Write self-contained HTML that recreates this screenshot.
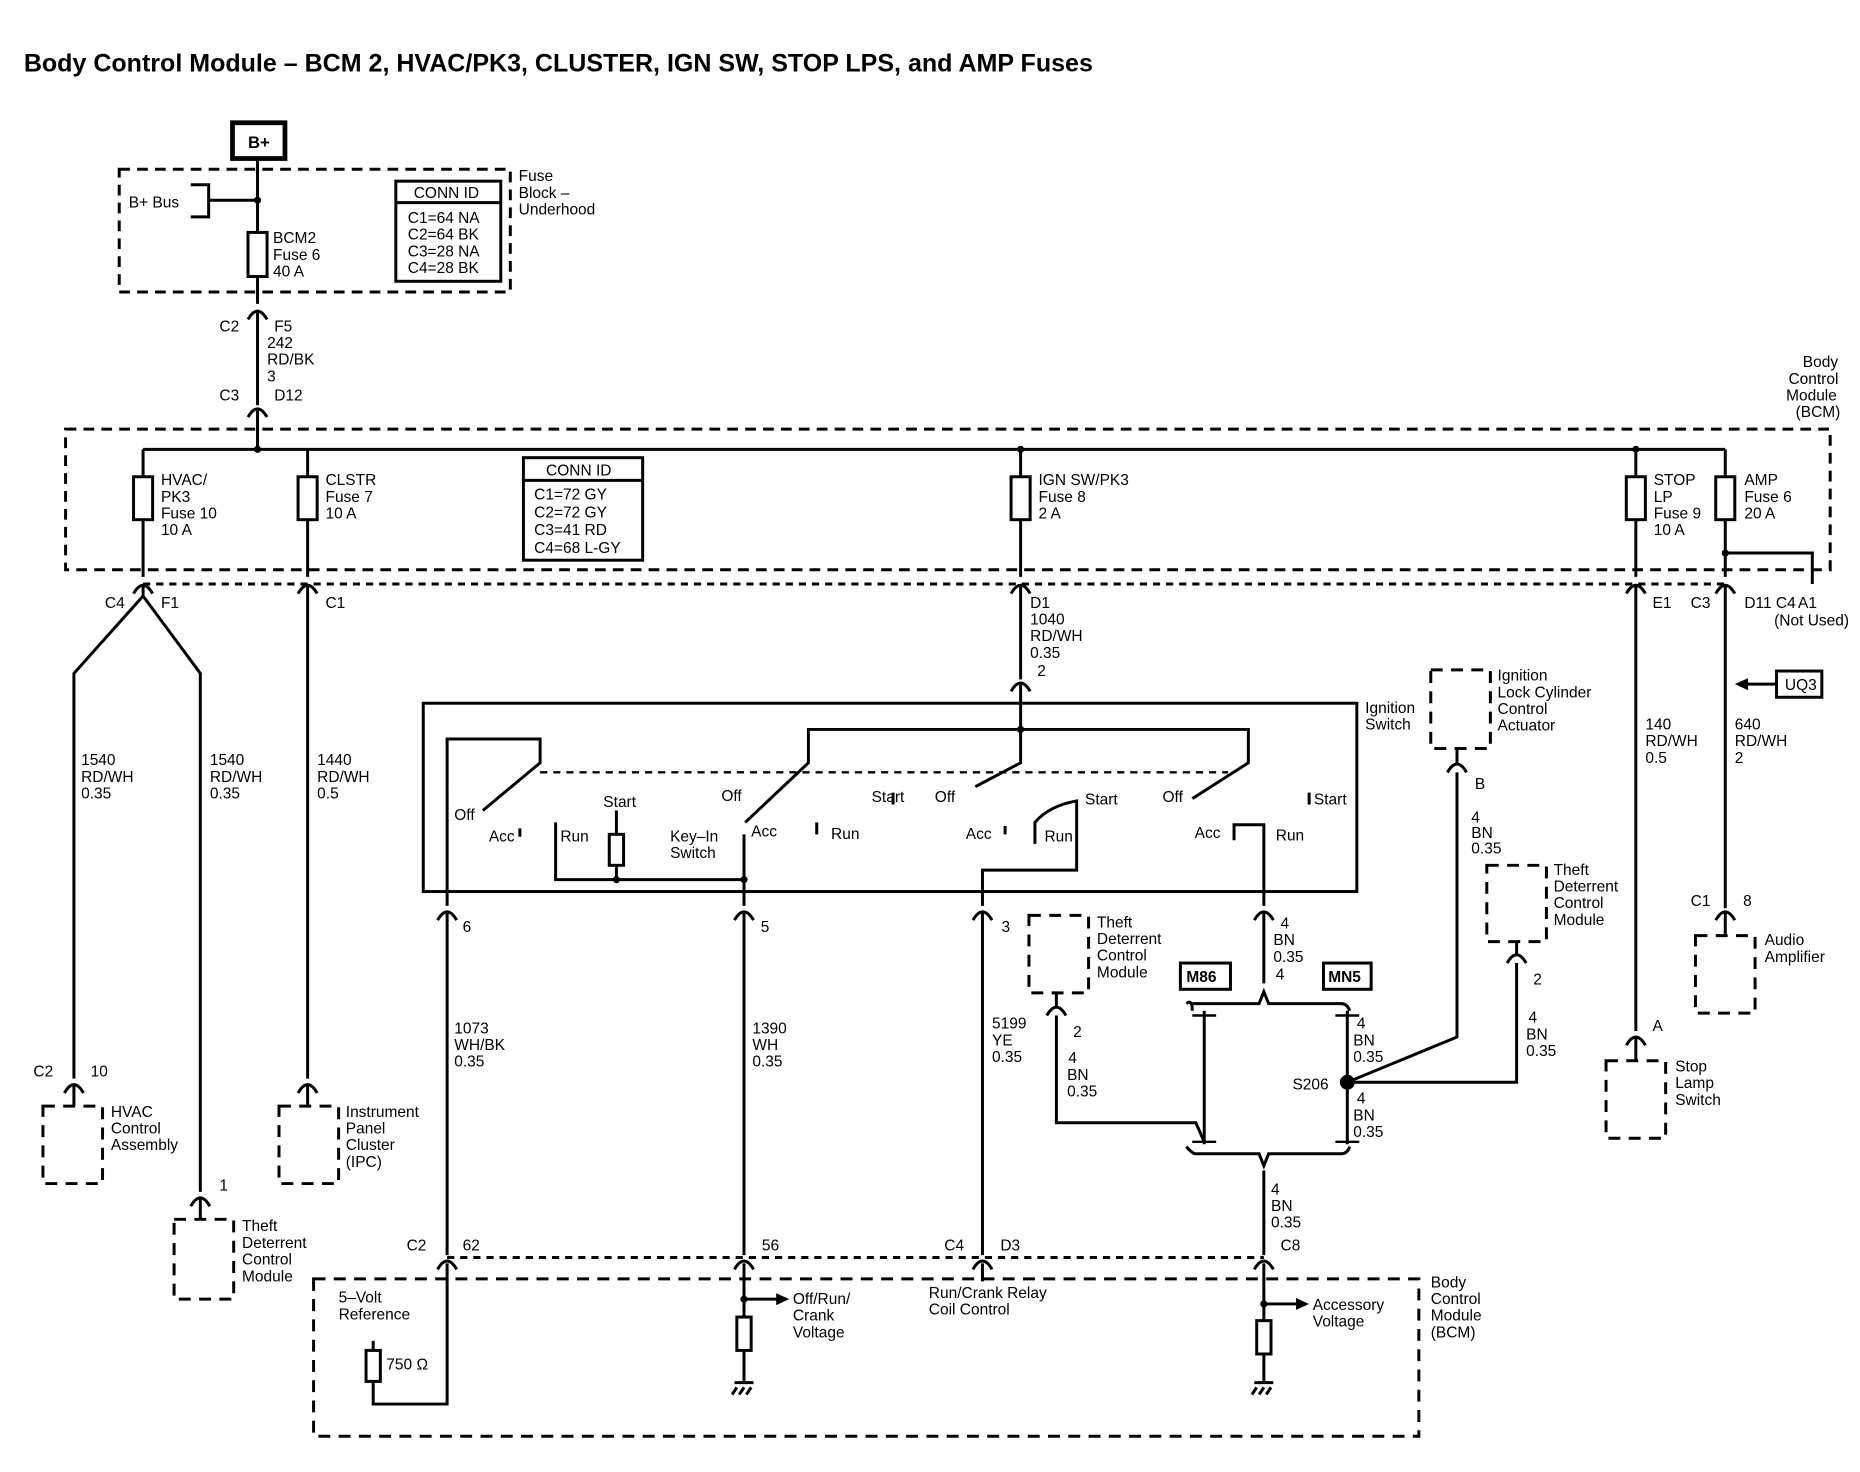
<!DOCTYPE html>
<html><head><meta charset="utf-8"><style>
html,body{margin:0;padding:0;background:#fff;}
svg{display:block}
text{font-family:"Liberation Sans",Arial,sans-serif;font-size:13px;fill:#000}
.b{font-weight:bold}
</style></head><body>
<svg width="1860" height="1472" viewBox="0 0 1560 1235" preserveAspectRatio="none" xmlns="http://www.w3.org/2000/svg">
<g fill="none" stroke="#000" stroke-width="2.5">
<rect x="195" y="103" width="44" height="30" stroke-width="4"/>
<rect x="100" y="142" width="328" height="103" stroke-dasharray="9,6"/>
<path d="M160,155 H175 V182 H160 M175,168 H216"/>
<line x1="216" y1="133" x2="216" y2="255"/>
<rect x="208" y="195" width="16" height="37" fill="#fff"/>
<rect x="332" y="152" width="88" height="84"/><line x1="332" y1="170" x2="420" y2="170"/>
<path d="M208,268 Q216,254 224,268 M216,262 V340 M208,350 Q216,336 224,350 M216,344 V377"/>
<rect x="55" y="360" width="1480" height="118" stroke-dasharray="9,6"/>
<line x1="120" y1="377" x2="1447" y2="377"/>
<line x1="120" y1="490" x2="1447" y2="490" stroke-dasharray="6,5"/>
<line x1="120" y1="377" x2="120" y2="484"/>
<line x1="258" y1="377" x2="258" y2="484"/>
<line x1="856" y1="377" x2="856" y2="484"/>
<line x1="1372" y1="377" x2="1372" y2="484"/>
<line x1="1447" y1="377" x2="1447" y2="484"/>
<rect x="112" y="400" width="16" height="36" fill="#fff"/>
<rect x="250" y="400" width="16" height="36" fill="#fff"/>
<rect x="848" y="400" width="16" height="36" fill="#fff"/>
<rect x="1364" y="400" width="16" height="36" fill="#fff"/>
<rect x="1439" y="400" width="16" height="36" fill="#fff"/>
<rect x="439" y="384" width="100" height="86"/><line x1="439" y1="403" x2="539" y2="403"/>
<path d="M1447,464 H1520 V490"/>
<path d="M112,498 Q120,484 128,498 M250,498 Q258,484 266,498 M848,498 Q856,484 864,498 M1364,498 Q1372,484 1380,498 M1439,498 Q1447,484 1455,498"/>
<path d="M120,492 V500 L62,565 V905 M120,500 L168,565 V1000"/>
<line x1="258" y1="492" x2="258" y2="905"/>
<line x1="856" y1="492" x2="856" y2="570"/>
<path d="M848,580 Q856,566 864,580 M856,574 V612"/>
<line x1="1372" y1="492" x2="1372" y2="865"/>
<line x1="1447" y1="492" x2="1447" y2="762"/>
<path d="M1439,772 Q1447,758 1455,772 M1447,766 V785"/>
<path d="M1364,877 Q1372,863 1380,877 M1372,871 V890"/>
<path d="M54,917 Q62,903 70,917 M62,911 V928"/>
<path d="M250,917 Q258,903 266,917 M258,911 V928"/>
<path d="M160,1012 Q168,998 176,1012 M168,1006 V1023"/>
<g stroke-dasharray="10,7">
<rect x="36" y="928" width="50" height="65"/>
<rect x="234" y="928" width="50" height="65"/>
<rect x="146" y="1023" width="50" height="67"/>
<rect x="1347" y="890" width="50" height="65"/>
<rect x="1422" y="785" width="50" height="65"/>
<rect x="1200" y="562" width="50" height="66"/>
<rect x="1247" y="726" width="50" height="64"/>
<rect x="863" y="768" width="50" height="65"/>
<rect x="263" y="1073" width="927" height="132"/>
</g>
<rect x="1490" y="563" width="38" height="22" stroke-width="2.5"/>
<path d="M1490,574 H1460"/>
<rect x="355" y="590" width="783" height="158"/>
<path d="M375,760 V620 H453 V640 L405,680"/>
<path d="M453,648 H1030" stroke-dasharray="6,5" stroke-width="2"/>
<path d="M856,612 H678 V640 L625,690 M856,612 V640 L818,660 M856,612 H1047 V640 L1000,670 M624,700 V760"/>
<path d="M466,690 V738 H624 M517,680 V700 M517,726 V738 M436,695 V702 M685,690 V700 M749,665 V675 M843,693 V700"/>
<rect x="511" y="700" width="12" height="26" fill="#fff"/>
<path d="M868,708 V690 Q880,676 903,672 V708 M824,760 V730 H903 V708"/>
<path d="M1035,705 V692 H1060 V760 M1098,665 V675"/>
<path d="M367,772 Q375,758 383,772 M375,766 V1053"/>
<path d="M616,772 Q624,758 632,772 M624,766 V1053"/>
<path d="M816,772 Q824,758 832,772 M824,766 V1053"/>
<path d="M1052,772 Q1060,758 1068,772 M1060,766 V825"/>
<path d="M995,842 Q1000,838 1000,848 M1000,842 H1056 L1060,832 L1064,842 H1125 Q1130,842 1132,848"/>
<rect x="990" y="808" width="42" height="22"/><rect x="1110" y="808" width="40" height="22"/>
<path d="M1010,848 V960 M1130,848 V960"/>
<path d="M1000,852 H1020 M1120,852 H1140 M1000,958 H1020 M1120,958 H1140" stroke-width="2"/>
<path d="M995,962 Q1000,968 1003,968 H1056 L1060,978 L1064,968 H1125 Q1130,968 1132,962"/>
<path d="M1060,982 V1053"/>
<path d="M878,852 Q886,838 894,852 M886,846 V833 M886,852 V942 H1003 L1010,958"/>
<path d="M1214,648 Q1222,634 1230,648 M1222,642 V628 M1222,648 V870 L1130,908"/>
<path d="M1264,808 Q1272,794 1280,808 M1272,802 V790 M1272,808 V908 H1130"/>
<circle cx="1130" cy="908" r="5" fill="#000"/>
<line x1="375" y1="1055" x2="1060" y2="1055" stroke-dasharray="6,5"/>
<path d="M367,1065 Q375,1051 383,1065 M616,1065 Q624,1051 632,1065 M816,1065 Q824,1051 832,1065 M1052,1065 Q1060,1051 1068,1065"/>
<path d="M375,1060 V1178 H313 V1125 M313,1160 V1178"/>
<rect x="307" y="1133" width="12" height="26" fill="#fff"/>
<path d="M624,1060 V1105 M624,1133 V1160 M616,1160 H632 M618,1164 L614,1170 M624,1164 L620,1170 M630,1164 L626,1170 M624,1090 H655"/>
<rect x="618" y="1105" width="12" height="28" fill="#fff"/>
<path d="M824,1060 V1075"/>
<path d="M1060,1060 V1108 M1060,1136 V1160 M1052,1160 H1068 M1054,1164 L1050,1170 M1060,1164 L1056,1170 M1066,1164 L1062,1170 M1060,1094 H1090"/>
<rect x="1054" y="1108" width="12" height="28" fill="#fff"/>
</g>
<g fill="#000">
<circle cx="216" cy="168" r="3"/><circle cx="216" cy="377" r="3"/><circle cx="856" cy="377" r="3"/><circle cx="1372" cy="377" r="3"/><circle cx="1447" cy="464" r="3"/><circle cx="517" cy="738" r="3"/><circle cx="624" cy="738" r="3"/><circle cx="856" cy="612" r="3"/><circle cx="624" cy="1090" r="3"/><circle cx="1060" cy="1094" r="3"/>
<path d="M1455,574 L1466,569 L1466,579Z"/><path d="M662,1090 L651,1085 L651,1095Z"/><path d="M1098,1094 L1087,1089 L1087,1099Z"/>
</g>
<text x="20" y="60" class="b" style="font-size:21px">Body Control Module – BCM 2, HVAC/PK3, CLUSTER, IGN SW, STOP LPS, and AMP Fuses</text>
<text x="208" y="124" class="b" style="font-size:14px">B+</text>
<text x="108" y="174">B+ Bus</text>
<text x="229" y="204">BCM2</text><text x="229" y="218">Fuse 6</text><text x="229" y="232">40 A</text>
<text x="347" y="166">CONN ID</text>
<text x="342" y="187">C1=64 NA</text><text x="342" y="201">C2=64 BK</text><text x="342" y="215">C3=28 NA</text><text x="342" y="229">C4=28 BK</text>
<text x="435" y="152">Fuse</text><text x="435" y="166">Block –</text><text x="435" y="180">Underhood</text>
<text x="184" y="278">C2</text><text x="230" y="278">F5</text><text x="224" y="292">242</text><text x="224" y="306">RD/BK</text><text x="224" y="320">3</text>
<text x="184" y="336">C3</text><text x="230" y="336">D12</text>
<text x="1512" y="308">Body</text><text x="1500" y="322">Control</text><text x="1498" y="336">Module</text><text x="1506" y="350">(BCM)</text>
<text x="135" y="407">HVAC/</text><text x="135" y="421">PK3</text><text x="135" y="435">Fuse 10</text><text x="135" y="449">10 A</text>
<text x="273" y="407">CLSTR</text><text x="273" y="421">Fuse 7</text><text x="273" y="435">10 A</text>
<text x="458" y="399">CONN ID</text>
<text x="448" y="419">C1=72 GY</text><text x="448" y="434">C2=72 GY</text><text x="448" y="449">C3=41 RD</text><text x="448" y="464">C4=68 L-GY</text>
<text x="871" y="407">IGN SW/PK3</text><text x="871" y="421">Fuse 8</text><text x="871" y="435">2 A</text>
<text x="1387" y="407">STOP</text><text x="1387" y="421">LP</text><text x="1387" y="435">Fuse 9</text><text x="1387" y="449">10 A</text>
<text x="1463" y="407">AMP</text><text x="1463" y="421">Fuse 6</text><text x="1463" y="435">20 A</text>
<text x="88" y="510">C4</text><text x="135" y="510">F1</text><text x="273" y="510">C1</text>
<text x="864" y="510">D1</text><text x="864" y="524">1040</text><text x="864" y="538">RD/WH</text><text x="864" y="552">0.35</text><text x="870" y="567">2</text>
<text x="1386" y="510">E1</text><text x="1418" y="510">C3</text><text x="1463" y="510">D11 C4</text><text x="1508" y="510">A1</text><text x="1488" y="525">(Not Used)</text>
<text x="1497" y="579">UQ3</text>
<text x="1145" y="598">Ignition</text><text x="1145" y="612">Switch</text>
<text x="1256" y="571">Ignition</text><text x="1256" y="585">Lock Cylinder</text><text x="1256" y="599">Control</text><text x="1256" y="613">Actuator</text>
<text x="1237" y="662">B</text><text x="1234" y="690">4</text><text x="1234" y="703">BN</text><text x="1234" y="716">0.35</text>
<text x="1380" y="612">140</text><text x="1380" y="626">RD/WH</text><text x="1380" y="640">0.5</text>
<text x="1455" y="612">640</text><text x="1455" y="626">RD/WH</text><text x="1455" y="640">2</text>
<text x="68" y="642">1540</text><text x="68" y="656">RD/WH</text><text x="68" y="670">0.35</text>
<text x="176" y="642">1540</text><text x="176" y="656">RD/WH</text><text x="176" y="670">0.35</text>
<text x="266" y="642">1440</text><text x="266" y="656">RD/WH</text><text x="266" y="670">0.5</text>
<text x="381" y="688">Off</text><text x="410" y="706">Acc</text><text x="470" y="706">Run</text><text x="506" y="677">Start</text>
<text x="562" y="706">Key–In</text><text x="562" y="720">Switch</text>
<text x="605" y="672">Off</text><text x="630" y="702">Acc</text><text x="697" y="704">Run</text><text x="731" y="673">Start</text>
<text x="784" y="673">Off</text><text x="810" y="704">Acc</text><text x="876" y="706">Run</text><text x="910" y="675">Start</text>
<text x="975" y="673">Off</text><text x="1002" y="703">Acc</text><text x="1070" y="705">Run</text><text x="1102" y="675">Start</text>
<text x="1303" y="734">Theft</text><text x="1303" y="748">Deterrent</text><text x="1303" y="762">Control</text><text x="1303" y="776">Module</text>
<text x="388" y="782">6</text><text x="638" y="782">5</text><text x="840" y="782">3</text>
<text x="1074" y="779">4</text><text x="1068" y="793">BN</text><text x="1068" y="807">0.35</text><text x="1070" y="822">4</text>
<text x="920" y="778">Theft</text><text x="920" y="792">Deterrent</text><text x="920" y="806">Control</text><text x="920" y="820">Module</text>
<text x="995" y="824" class="b">M86</text><text x="1114" y="824" class="b">MN5</text>
<text x="1418" y="760">C1</text><text x="1462" y="760">8</text>
<text x="1480" y="793">Audio</text><text x="1480" y="807">Amplifier</text>
<text x="1286" y="826">2</text><text x="900" y="870">2</text>
<text x="381" y="867">1073</text><text x="381" y="881">WH/BK</text><text x="381" y="895">0.35</text>
<text x="631" y="867">1390</text><text x="631" y="881">WH</text><text x="631" y="895">0.35</text>
<text x="832" y="863">5199</text><text x="832" y="877">YE</text><text x="832" y="891">0.35</text>
<text x="1138" y="863">4</text><text x="1135" y="877">BN</text><text x="1135" y="891">0.35</text>
<text x="1282" y="858">4</text><text x="1280" y="872">BN</text><text x="1280" y="886">0.35</text>
<text x="1386" y="865">A</text>
<text x="1405" y="899">Stop</text><text x="1405" y="913">Lamp</text><text x="1405" y="927">Switch</text>
<text x="896" y="892">4</text><text x="895" y="906">BN</text><text x="895" y="920">0.35</text>
<text x="1084" y="914">S206</text>
<text x="1138" y="926">4</text><text x="1135" y="940">BN</text><text x="1135" y="954">0.35</text>
<text x="28" y="903">C2</text><text x="76" y="903">10</text>
<text x="93" y="937">HVAC</text><text x="93" y="951">Control</text><text x="93" y="965">Assembly</text>
<text x="290" y="937">Instrument</text><text x="290" y="951">Panel</text><text x="290" y="965">Cluster</text><text x="290" y="979">(IPC)</text>
<text x="184" y="999">1</text>
<text x="203" y="1033">Theft</text><text x="203" y="1047">Deterrent</text><text x="203" y="1061">Control</text><text x="203" y="1075">Module</text>
<text x="1066" y="1002">4</text><text x="1066" y="1016">BN</text><text x="1066" y="1030">0.35</text>
<text x="341" y="1049">C2</text><text x="388" y="1049">62</text><text x="639" y="1049">56</text>
<text x="792" y="1049">C4</text><text x="839" y="1049">D3</text><text x="1074" y="1049">C8</text>
<text x="284" y="1093">5–Volt</text><text x="284" y="1107">Reference</text>
<text x="324" y="1149">750 Ω</text>
<text x="665" y="1094">Off/Run/</text><text x="665" y="1108">Crank</text><text x="665" y="1122">Voltage</text>
<text x="779" y="1089">Run/Crank Relay</text><text x="779" y="1103">Coil Control</text>
<text x="1101" y="1099">Accessory</text><text x="1101" y="1113">Voltage</text>
<text x="1200" y="1080">Body</text><text x="1200" y="1094">Control</text><text x="1200" y="1108">Module</text><text x="1200" y="1122">(BCM)</text>
</svg>
</body></html>
